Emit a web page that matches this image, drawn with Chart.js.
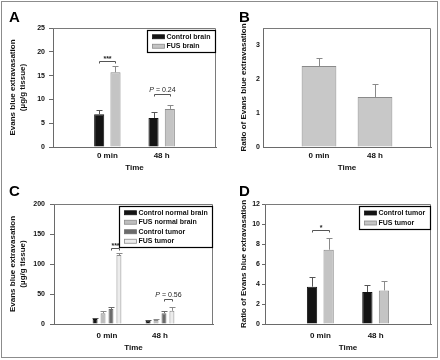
<!DOCTYPE html>
<html>
<head>
<meta charset="utf-8">
<script src="https://cdn.jsdelivr.net/npm/chart.js@4.4.1/dist/chart.umd.min.js"></script>
<style>
  html, body { margin: 0; padding: 0; background: #fff; }
  #fig { position: relative; width: 440px; height: 360px; overflow: hidden; }
  #frame { position: absolute; left: 1px; top: 1px; width: 435px; height: 355px; border: 1px solid #8c8c8c; }
  .panel { position: absolute; }
  .tag { position: absolute; font: bold 15px "Liberation Sans", Arial, sans-serif; color: #000; }
</style>
</head>
<body>
<div id="fig">
  <div id="frame"></div>
  <canvas id="chartA" class="panel" width="220" height="180" style="left:0;top:0"></canvas>
  <canvas id="chartB" class="panel" width="220" height="180" style="left:220px;top:0"></canvas>
  <canvas id="chartC" class="panel" width="220" height="180" style="left:0;top:180px"></canvas>
  <canvas id="chartD" class="panel" width="220" height="180" style="left:220px;top:180px"></canvas>
  <div class="tag" style="left:9px;top:8px">A</div>
  <div class="tag" style="left:239px;top:8px">B</div>
  <div class="tag" style="left:9px;top:182px">C</div>
  <div class="tag" style="left:239px;top:182px">D</div>
</div>
<script>
// Категории (пустые по краям, как в исходном графике)
const timeLabels = ['', '0 min', '48 h', ''];

// A: Evans blue, мозг
const ctrlBrain = [6.9, 6.1];
const ctrlBrainErr = [0.8, 1.2];
const fusBrain = [15.7, 8.0];
const fusBrainErr = [1.4, 0.8];

// B: отношение FUS / control, мозг
const ratioBrain = [2.38, 1.47];
const ratioBrainErr = [0.25, 0.37];

// C: нормальный мозг и опухоль
const ctrlNormal = [8.5, 5.5];
const ctrlNormalErr = [2.0, 1.0];
const fusNormal = [18, 6.5];
const fusNormalErr = [4, 1.2];
const ctrlTumor = [25, 18];
const ctrlTumorErr = [4, 3];
const fusTumor = [115, 22];
const fusTumorErr = [4, 6];

// D: отношение, опухоль
const ratioCtrlTumor = [3.73, 3.2];
const ratioCtrlTumorErr = [0.97, 0.73];
const ratioFusTumor = [7.43, 3.36];
const ratioFusTumorErr = [1.17, 0.94];

const pad = arr => [null, ...arr, null];
const FONT = '"Liberation Sans", Arial, sans-serif';

Chart.defaults.font.family = FONT;
Chart.defaults.color = '#111';
Chart.defaults.animation = false;

// Рамка вокруг области графика (верх и право)
const frameBox = {
    id: 'frameBox',
    beforeDatasetsDraw(chart) {
        const { ctx, chartArea: a } = chart;
        ctx.save();
        ctx.strokeStyle = '#7a7a7a';
        ctx.lineWidth = 1;
        ctx.beginPath();
        ctx.moveTo(a.left, Math.round(a.top) + 0.5);
        ctx.lineTo(Math.round(a.right) - 0.5, Math.round(a.top) + 0.5);
        ctx.lineTo(Math.round(a.right) - 0.5, a.bottom);
        ctx.stroke();
        ctx.restore();
    }
};

// Планки погрешностей (только вверх)
const errorBars = {
    id: 'errorBars',
    afterDatasetsDraw(chart) {
        const { ctx } = chart;
        const y = chart.scales.y;
        chart.data.datasets.forEach((ds, i) => {
            if (!ds.errors) return;
            chart.getDatasetMeta(i).data.forEach((bar, j) => {
                const v = ds.data[j];
                if (v == null) return;
                const top = Math.round(y.getPixelForValue(v + ds.errors[j])) + 0.5;
                const x = Math.round(bar.x) + 0.5;
                ctx.save();
                ctx.strokeStyle = ds.errorColor || '#666';
                ctx.lineWidth = 1;
                ctx.beginPath();
                ctx.moveTo(x, bar.y);
                ctx.lineTo(x, top);
                ctx.moveTo(x - 3, top);
                ctx.lineTo(x + 3, top);
                ctx.stroke();
                ctx.restore();
            });
        });
    }
};

// Легенда в рамке внутри области графика
const boxLegend = {
    id: 'boxLegend',
    afterDraw(chart, args, opts) {
        if (!opts.show) return;
        const { ctx, chartArea: a } = chart;
        const items = chart.data.datasets;
        const rowH = opts.rowHeight || 9.5;
        ctx.save();
        ctx.font = 'bold 7px ' + FONT;
        const textW = Math.max(...items.map(d => ctx.measureText(d.label).width));
        const w = Math.round(5 + 12 + 2 + textW + 5);
        const h = Math.round(items.length * rowH + 3);
        const x0 = Math.round(a.right - w - 1) + 0.5;
        const y0 = Math.round(a.top + 2) + 0.5;
        ctx.fillStyle = '#fff';
        ctx.fillRect(x0, y0, w, h);
        ctx.strokeStyle = '#000';
        ctx.lineWidth = 1.2;
        ctx.strokeRect(x0, y0, w, h);
        items.forEach((d, i) => {
            const cy = y0 + 1.5 + rowH * i + rowH / 2;
            ctx.fillStyle = d.backgroundColor;
            ctx.fillRect(x0 + 5, cy - 2, 12, 4);
            ctx.strokeStyle = d.borderColor;
            ctx.lineWidth = 0.8;
            ctx.strokeRect(x0 + 5, cy - 2, 12, 4);
            ctx.fillStyle = '#111';
            ctx.textBaseline = 'middle';
            ctx.fillText(d.label, x0 + 19, cy);
        });
        ctx.restore();
    }
};

// Скобки значимости
const brackets = {
    id: 'brackets',
    afterDatasetsDraw(chart, args, opts) {
        const { ctx } = chart;
        (opts.items || []).forEach(b => {
            const xa = Math.round(chart.getDatasetMeta(b.from).data[b.cat].x) + 0.5;
            const xb = Math.round(chart.getDatasetMeta(b.to).data[b.cat].x) + 0.5;
            const yy = Math.round(chart.scales.y.getPixelForValue(b.y)) + 0.5;
            ctx.save();
            ctx.strokeStyle = '#555';
            ctx.lineWidth = 1;
            ctx.beginPath();
            ctx.moveTo(xa, yy + 2);
            ctx.lineTo(xa, yy);
            ctx.lineTo(xb, yy);
            ctx.lineTo(xb, yy + 2);
            ctx.stroke();
            ctx.fillStyle = '#222';
            ctx.textBaseline = 'alphabetic';
            const cx = (xa + xb) / 2;
            const ty = yy - (b.gap || 2);
            if (b.text.startsWith('P ')) {
                ctx.font = 'italic 7px ' + FONT;
                const pW = ctx.measureText('P').width;
                ctx.font = '7px ' + FONT;
                const rest = b.text.slice(1);
                const rW = ctx.measureText(rest).width;
                const x1 = cx - (pW + rW) / 2;
                ctx.font = 'italic 7px ' + FONT;
                ctx.textAlign = 'left';
                ctx.fillText('P', x1, ty);
                ctx.font = '7px ' + FONT;
                ctx.fillText(rest, x1 + pW, ty);
            } else {
                ctx.font = 'bold 7px ' + FONT;
                ctx.textAlign = 'center';
                ctx.fillText(b.text, cx, ty);
            }
            ctx.restore();
        });
    }
};

function xAxis(height, tickPad) {
    return {
        type: 'category',
        offset: false,
        grid: { display: false, drawTicks: false },
        border: { color: '#6a6a6a' },
        ticks: { font: { size: 8, weight: 'bold' }, padding: tickPad, autoSkip: false, maxRotation: 0 },
        title: { display: true, text: 'Time', font: { size: 8, weight: 'bold' }, padding: { top: 0, bottom: 7 } },
        afterFit: s => { s.height = height; }
    };
}

function yAxis(max, step, width, title, titlePad, tickLen, tickPad) {
    return {
        min: 0,
        max: max,
        ticks: { stepSize: step, includeBounds: false, font: { size: 7, weight: 'bold' }, padding: tickPad },
        grid: { drawOnChartArea: false, drawTicks: tickLen > 0, tickLength: tickLen, color: '#6a6a6a' },
        border: { color: '#6a6a6a' },
        title: { display: true, text: title, font: { size: 8, weight: 'bold' }, padding: { top: titlePad, bottom: 0 } },
        afterFit: s => { s.width = width; }
    };
}

function barSet(label, values, errs, fill, border, errColor) {
    return {
        label: label,
        data: pad(values),
        errors: pad(errs),
        errorColor: errColor,
        backgroundColor: fill,
        borderColor: border,
        borderWidth: 1,
        barPercentage: 0.62,
        categoryPercentage: 0.6
    };
}

// Панель A
new Chart(document.getElementById('chartA'), {
    type: 'bar',
    data: {
        labels: timeLabels,
        datasets: [
            barSet('Control brain', ctrlBrain, ctrlBrainErr, '#141414', '#141414', '#555'),
            barSet('FUS brain', fusBrain, fusBrainErr, '#c4c4c4', '#8a8a8a', '#8a8a8a')
        ]
    },
    options: {
        responsive: false,
        layout: { padding: { top: 28, right: 4, bottom: 0, left: 0 } },
        plugins: {
            legend: { display: false },
            tooltip: { enabled: false },
            boxLegend: { show: true, rowHeight: 9.5 },
            brackets: { items: [
                { cat: 1, from: 0, to: 1, y: 18.0, text: '***', gap: 1 },
                { cat: 2, from: 0, to: 1, y: 11.1, text: 'P = 0.24', gap: 3 }
            ] }
        },
        scales: {
            x: xAxis(33, 4),
            y: yAxis(25, 5, 53, ['Evans blue extravasation', '(\u00b5g/g tissue)'], 8, 4, 4)
        }
    },
    plugins: [frameBox, errorBars, brackets, boxLegend]
});

// Панель B
new Chart(document.getElementById('chartB'), {
    type: 'bar',
    data: {
        labels: timeLabels,
        datasets: [
            Object.assign(barSet('Ratio', ratioBrain, ratioBrainErr, '#c8c8c8', '#8a8a8a', '#8a8a8a'),
                { barPercentage: 0.62, categoryPercentage: 1 })
        ]
    },
    options: {
        responsive: false,
        layout: { padding: { top: 28, right: 9, bottom: 0, left: 0 } },
        plugins: { legend: { display: false }, tooltip: { enabled: false } },
        scales: {
            x: xAxis(33, 4),
            y: yAxis(3.5, 1, 43, 'Ratio of Evans blue extravasation', 19, 0, 3)
        }
    },
    plugins: [frameBox, errorBars]
});

// Панель C
new Chart(document.getElementById('chartC'), {
    type: 'bar',
    data: {
        labels: timeLabels,
        datasets: [
            barSet('Control normal brain', ctrlNormal, ctrlNormalErr, '#141414', '#141414', '#555'),
            barSet('FUS normal brain', fusNormal, fusNormalErr, '#bdbdbd', '#8a8a8a', '#8a8a8a'),
            barSet('Control tumor', ctrlTumor, ctrlTumorErr, '#6b6b6b', '#6b6b6b', '#6b6b6b'),
            barSet('FUS tumor', fusTumor, fusTumorErr, '#ececec', '#8a8a8a', '#8a8a8a')
        ]
    },
    options: {
        responsive: false,
        layout: { padding: { top: 24, right: 3, bottom: 0, left: 0 } },
        plugins: {
            legend: { display: false },
            tooltip: { enabled: false },
            boxLegend: { show: true, rowHeight: 9.5 },
            brackets: { items: [
                { cat: 1, from: 2, to: 3, y: 126, text: '***', gap: 1 },
                { cat: 2, from: 2, to: 3, y: 42, text: 'P = 0.56', gap: 3 }
            ] }
        },
        scales: {
            x: xAxis(36, 7),
            y: yAxis(200, 50, 54, ['Evans blue extravasation', '(\u00b5g/g tissue)'], 8, 4, 5)
        }
    },
    plugins: [frameBox, errorBars, brackets, boxLegend]
});

// Панель D
new Chart(document.getElementById('chartD'), {
    type: 'bar',
    data: {
        labels: timeLabels,
        datasets: [
            barSet('Control tumor', ratioCtrlTumor, ratioCtrlTumorErr, '#141414', '#141414', '#555'),
            barSet('FUS tumor', ratioFusTumor, ratioFusTumorErr, '#c4c4c4', '#8a8a8a', '#8a8a8a')
        ]
    },
    options: {
        responsive: false,
        layout: { padding: { top: 24, right: 9, bottom: 0, left: 0 } },
        plugins: {
            legend: { display: false },
            tooltip: { enabled: false },
            boxLegend: { show: true, rowHeight: 10 },
            brackets: { items: [
                { cat: 1, from: 0, to: 1, y: 9.4, text: '*', gap: 1 }
            ] }
        },
        scales: {
            x: xAxis(36, 7),
            y: yAxis(12, 2, 45, 'Ratio of Evans blue extravasation', 19, 3, 2)
        }
    },
    plugins: [frameBox, errorBars, brackets, boxLegend]
});
</script>
</body>
</html>
